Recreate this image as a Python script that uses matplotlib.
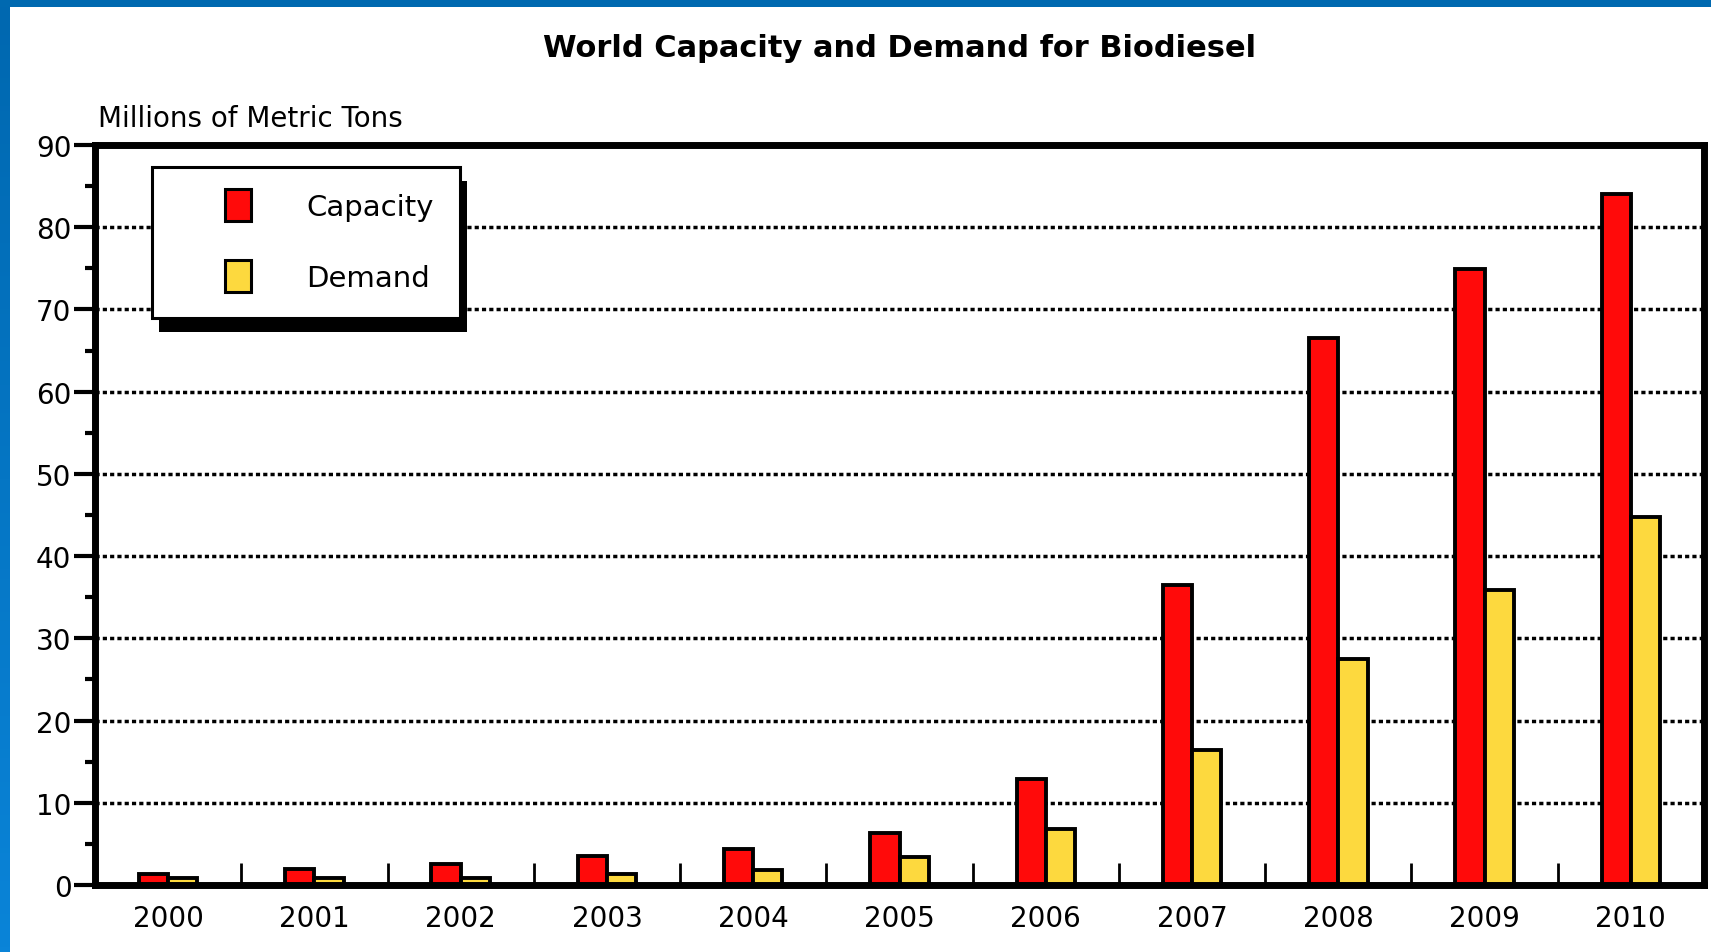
import numpy as np
import matplotlib
matplotlib.use("Agg")
import matplotlib.pyplot as plt
from matplotlib import font_manager, patheffects
from matplotlib.colors import LinearSegmentedColormap
from matplotlib.legend_handler import HandlerPatch
from matplotlib.patches import Patch, Rectangle
from matplotlib.ticker import FixedLocator, MultipleLocator

# World biodiesel figures, millions of metric tons
years = ["2000", "2001", "2002", "2003", "2004", "2005",
         "2006", "2007", "2008", "2009", "2010"]
capacity = [1.3, 2.0, 2.5, 3.5, 4.4, 6.3, 12.9, 36.5, 66.5, 74.9, 84.0]
demand = [0.9, 0.9, 0.9, 1.3, 1.8, 3.4, 6.8, 16.4, 27.5, 35.9, 44.8]
series_labels = ["Capacity", "Demand"]
y_ticks = [0, 10, 20, 30, 40, 50, 60, 70, 80, 90]

RED = "#ff0a0a"
YELLOW = "#fdd93e"


def pick_font():
    """ Use a narrow face when one is installed, else DejaVu """
    names = {f.name for f in font_manager.fontManager.ttflist}
    if "Liberation Sans Narrow" in names:
        return "Liberation Sans Narrow", 1.15
    return "DejaVu Sans", 1.0


def square_handle(legend, orig_handle, xdescent, ydescent, width, height, fontsize):
    # small upright box pushed to the right end of the handle area
    w, h = 18.5, 23.0
    return Rectangle((-xdescent + width - w, -ydescent + height / 2 - h / 2), w, h)


def main():
    family, k = pick_font()
    plt.rcParams["font.family"] = family

    fig = plt.figure(figsize=(17.11, 9.53), dpi=100)
    fig.patch.set_facecolor("white")

    # Blue window frame along the top and left edges
    fig.add_artist(Rectangle((0, 1 - 8 / 953), 1, 8 / 953, transform=fig.transFigure,
                             facecolor="#0069b0", edgecolor="none", zorder=10))
    edge = fig.add_axes([0, 0, 10 / 1711, 1 - 8 / 953])
    blues = LinearSegmentedColormap.from_list("edge", ["#0068b0", "#0a84d8"])
    edge.imshow(np.linspace(0, 1, 200)[:, None], aspect="auto", cmap=blues)
    edge.axis("off")

    ax = fig.add_axes([95 / 1711, 1 - 886 / 953, 1609 / 1711, 740 / 953])

    x = np.arange(len(years))
    ax.bar(x - 0.1, capacity, width=0.2, color=RED, edgecolor="black", linewidth=2.8, zorder=3)
    ax.bar(x + 0.1, demand, width=0.2, color=YELLOW, edgecolor="black", linewidth=2.8, zorder=3)

    ax.set_xlim(-0.5, len(years) - 0.5)
    ax.set_ylim(0, 90)

    # Axis ticks
    ax.set_yticks(y_ticks)
    ax.yaxis.set_minor_locator(MultipleLocator(5))
    ax.set_xticks(x)
    ax.set_xticklabels(years)
    ax.xaxis.set_minor_locator(FixedLocator(x[:-1] + 0.5))
    ax.tick_params(axis="y", which="major", direction="out", length=15, width=3,
                   pad=2, labelsize=20 * k)
    ax.tick_params(axis="y", which="minor", direction="out", length=7, width=3)
    ax.tick_params(axis="x", which="major", length=0, pad=14, labelsize=20 * k)
    ax.tick_params(axis="x", which="minor", direction="in", length=16, width=2)

    for spine in ax.spines.values():
        spine.set_linewidth(5)
        spine.set_zorder(5)

    ax.set_axisbelow(True)
    ax.yaxis.grid(True, which="major", color="black", linewidth=2.5,
                  linestyle=(0, (1.2, 0.9)))

    # Titles
    ax.text(0.5, 1.132, "World Capacity and Demand for Biodiesel", transform=ax.transAxes,
            ha="center", va="center", fontsize=22 * k, fontweight="bold")
    ax.text(0.002, 1.037, "Millions of Metric Tons", transform=ax.transAxes,
            ha="left", va="center", fontsize=20 * k)

    # Legend with a hard drop shadow
    handles = [Patch(facecolor=RED, edgecolor="black", linewidth=2.2),
               Patch(facecolor=YELLOW, edgecolor="black", linewidth=2.2)]
    leg = ax.legend(handles, series_labels, loc="upper left",
                    bbox_to_anchor=(0.0354, 0.970), borderaxespad=0,
                    fontsize=21 * k, fancybox=False, framealpha=1,
                    edgecolor="black", borderpad=0.9, handlelength=2.5,
                    handletextpad=1.88, labelspacing=1.45,
                    handler_map={Patch: HandlerPatch(patch_func=square_handle)})
    frame = leg.get_frame()
    frame.set_linewidth(2.2)
    frame.set_path_effects([patheffects.SimplePatchShadow(offset=(5, -10),
                                                          shadow_rgbFace="black", alpha=1.0),
                            patheffects.Normal()])
    leg.set_zorder(6)

    fig.savefig("out.png", dpi=100)


if __name__ == "__main__":
    main()
